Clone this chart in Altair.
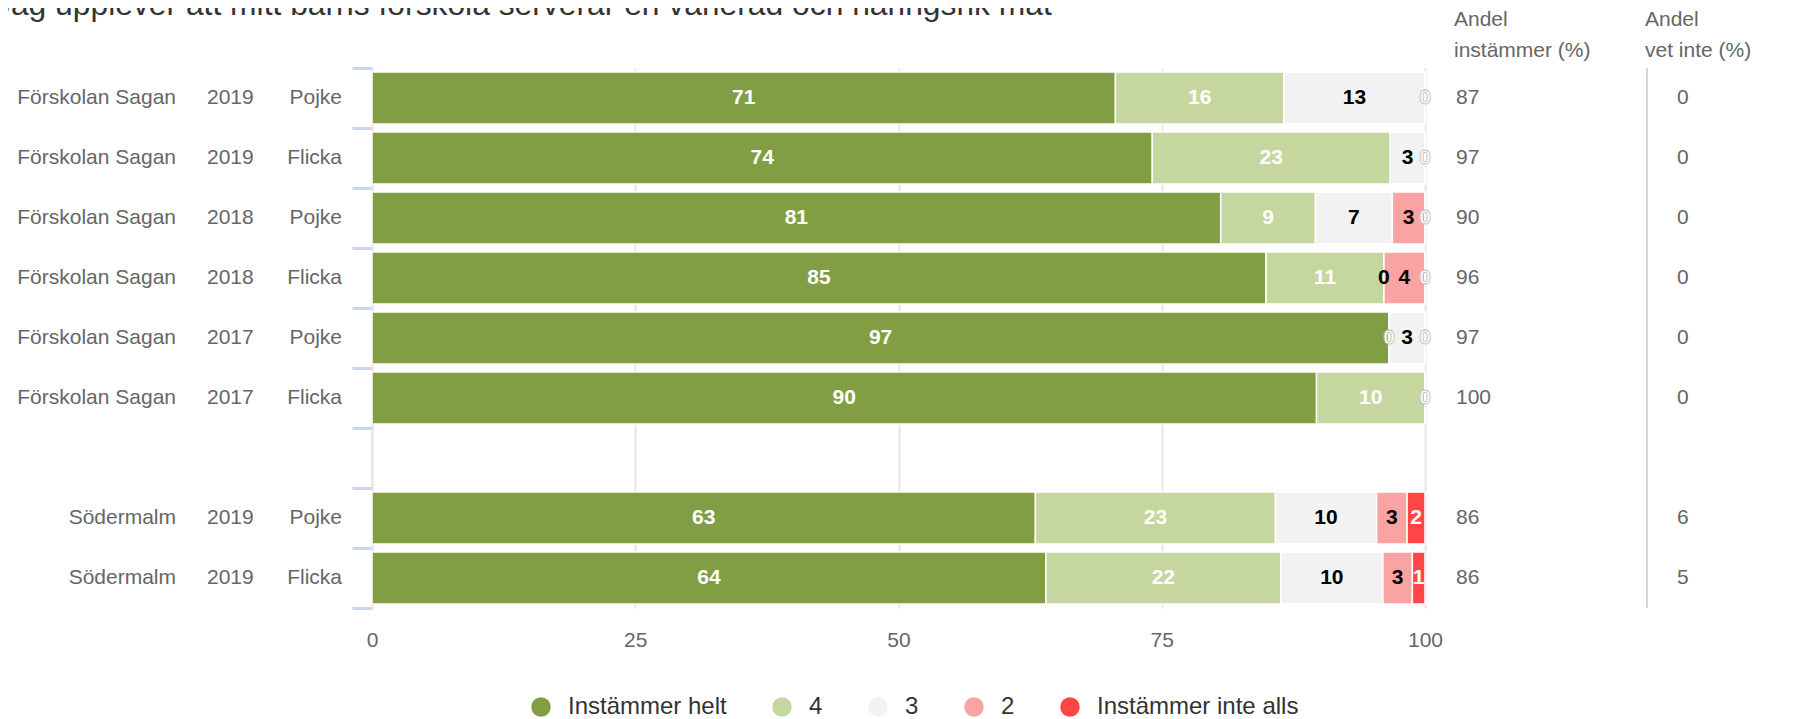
import altair as alt
import pandas as pd

FONT = "Liberation Sans"

title_text = "Jag upplever att mitt barns förskola serverar en varierad och näringsrik mat"

# band keys (one empty band separates the two groups)
row_keys = ["r0", "r1", "r2", "r3", "r4", "r5", "gap", "r6", "r7"]
data_rows = ["r0", "r1", "r2", "r3", "r4", "r5", "r6", "r7"]
schools = ["Förskolan Sagan"] * 6 + ["Södermalm"] * 2
years = ["2019", "2019", "2018", "2018", "2017", "2017", "2019", "2019"]
genders = ["Pojke", "Flicka", "Pojke", "Flicka", "Pojke", "Flicka", "Pojke", "Flicka"]

categories = ["Instämmer helt", "4", "3", "2", "Instämmer inte alls"]
cat_colors = ["#829e44", "#c5d79f", "#f2f2f2", "#f9a3a3", "#ff4545"]
label_colors = ["white", "white", "black", "black", "white"]

v_helt = [70.6, 74.1, 80.6, 84.9, 96.6, 89.7, 63.0, 64.0]
v_4 = [16.0, 22.6, 9.0, 11.2, 0, 10.3, 22.8, 22.3]
v_3 = [13.4, 3.3, 7.3, 0, 3.4, 0, 9.6, 9.7]
v_2 = [0, 0, 3.1, 3.9, 0, 0, 2.9, 2.8]
v_1 = [0, 0, 0, 0, 0, 0, 1.7, 1.2]
andel_instammer = [87, 97, 90, 96, 97, 100, 86, 86]
andel_vet_inte = [0, 0, 0, 0, 0, 0, 6, 5]
x_ticks = [0, 25, 50, 75, 100]

header_1 = "Andel\ninstämmer (%)"
header_2 = "Andel\nvet inte (%)"

series = [v_helt, v_4, v_3, v_2, v_1]
recs = []
for i, r in enumerate(data_rows):
    for j, cat in enumerate(categories):
        v = series[j][i]
        # a zero label is hidden when the next category is also zero (same spot)
        hidden = v == 0 and j < len(categories) - 1 and series[j + 1][i] == 0
        recs.append(dict(row=r, cat=cat, ci=j, v=v, lc=label_colors[j],
                         zero=(v == 0), show=not hidden))
df = pd.DataFrame(recs)

df_rows = pd.DataFrame(dict(row=data_rows, school=schools, year=years, gender=genders,
                            ai=andel_instammer, avi=andel_vet_inte))

yscale = alt.Scale(domain=row_keys, paddingInner=0, paddingOuter=0)

stacked = alt.Chart(df).transform_stack(
    stack="v", groupby=["row"], as_=["x0", "x1"],
    sort=[alt.SortField("ci", order="ascending")]
)

bars = stacked.mark_bar(size=52, stroke="white", strokeWidth=1.5).encode(
    x=alt.X("x0:Q", scale=alt.Scale(domain=[0, 100], nice=False),
            axis=alt.Axis(values=x_ticks, title=None, grid=True, gridColor="#e6e6e6",
                          gridWidth=2, domain=False, ticks=False, labelFontSize=21,
                          labelColor="#666666", labelPadding=21, labelFont=FONT,
                          labelFlush=False)),
    x2="x1:Q",
    y=alt.Y("row:N", scale=yscale,
            axis=alt.Axis(title=None, labels=False, ticks=True, tickBand="extent",
                          tickColor="#ccd6eb", tickSize=20, tickWidth=3, domain=True,
                          domainColor="#e6e6e6", domainWidth=2, grid=False)),
    color=alt.Color("cat:N", scale=alt.Scale(domain=categories, range=cat_colors),
                    legend=alt.Legend(title=None, orient="none", legendX=157, legendY=627,
                                      direction="horizontal", columns=5,
                                      symbolType="circle", symbolSize=380,
                                      symbolStrokeWidth=0, symbolOpacity=1,
                                      labelFontSize=24, labelFont=FONT, labelLimit=0,
                                      labelColor="#333333", columnPadding=43,
                                      labelOffset=15, padding=0)),
)

lab = stacked.transform_calculate(xm="(datum.x0 + datum.x1) / 2").transform_filter("datum.show")

lab_white = lab.transform_filter("datum.lc == 'white' && !datum.zero").mark_text(
    font=FONT, fontSize=21, fontWeight="bold", color="white", baseline="middle"
).encode(x="xm:Q", y=alt.Y("row:N", scale=yscale), text=alt.Text("v:Q", format=".0f"))

lab_zero = lab.transform_filter("datum.lc == 'white' && datum.zero").mark_text(
    font=FONT, fontSize=21, fontWeight="bold", color="white", baseline="middle",
    stroke="#bbbbbb", strokeWidth=0.8
).encode(x="xm:Q", y=alt.Y("row:N", scale=yscale), text=alt.Text("v:Q", format=".0f"))

lab_black = lab.transform_filter("datum.lc == 'black'").mark_text(
    font=FONT, fontSize=21, fontWeight="bold", color="black", baseline="middle"
).encode(x="xm:Q", y=alt.Y("row:N", scale=yscale), text=alt.Text("v:Q", format=".0f"))

rows_base = alt.Chart(df_rows)
txt = dict(font=FONT, fontSize=21, color="#666666", baseline="middle")

school_t = rows_base.mark_text(align="right", **txt).encode(
    x=alt.value(-196), y=alt.Y("row:N", scale=yscale), text="school:N")
year_t = rows_base.mark_text(align="left", **txt).encode(
    x=alt.value(-165), y=alt.Y("row:N", scale=yscale), text="year:N")
gender_t = rows_base.mark_text(align="right", **txt).encode(
    x=alt.value(-30), y=alt.Y("row:N", scale=yscale), text="gender:N")
ai_t = rows_base.mark_text(align="left", **txt).encode(
    x=alt.value(1084), y=alt.Y("row:N", scale=yscale), text="ai:Q")
avi_t = rows_base.mark_text(align="left", **txt).encode(
    x=alt.value(1305), y=alt.Y("row:N", scale=yscale), text="avi:Q")

sep = alt.Chart(pd.DataFrame({"a": [0]})).mark_rule(color="#ccd6eb", strokeWidth=2).encode(
    x=alt.value(1275), y=alt.value(0), y2=alt.value(540))

head1 = alt.Chart(pd.DataFrame({"h": [header_1]})).mark_text(
    align="left", baseline="middle", lineBreak="\n", lineHeight=31, font=FONT,
    fontSize=21, color="#666666").encode(x=alt.value(1082), y=alt.value(-48), text="h:N")
head2 = alt.Chart(pd.DataFrame({"h": [header_2]})).mark_text(
    align="left", baseline="middle", lineBreak="\n", lineHeight=31, font=FONT,
    fontSize=21, color="#666666").encode(x=alt.value(1273), y=alt.value(-48), text="h:N")

chart = alt.layer(
    bars, lab_white, lab_black, lab_zero, school_t, year_t, gender_t, ai_t, avi_t,
    sep, head1, head2
).properties(
    width=1053, height=540,
    padding={"left": 364, "top": 60, "right": 365, "bottom": 111},
    autosize=alt.AutoSizeParams(type="none"),
    title=alt.Title(title_text, fontSize=31.8, font=FONT, fontWeight="normal",
                    color="#333333", anchor="start", frame="group", dx=-377, dy=17),
).configure_view(stroke=None)

chart.save("out.html", embed_options={"renderer": "svg", "actions": False})
